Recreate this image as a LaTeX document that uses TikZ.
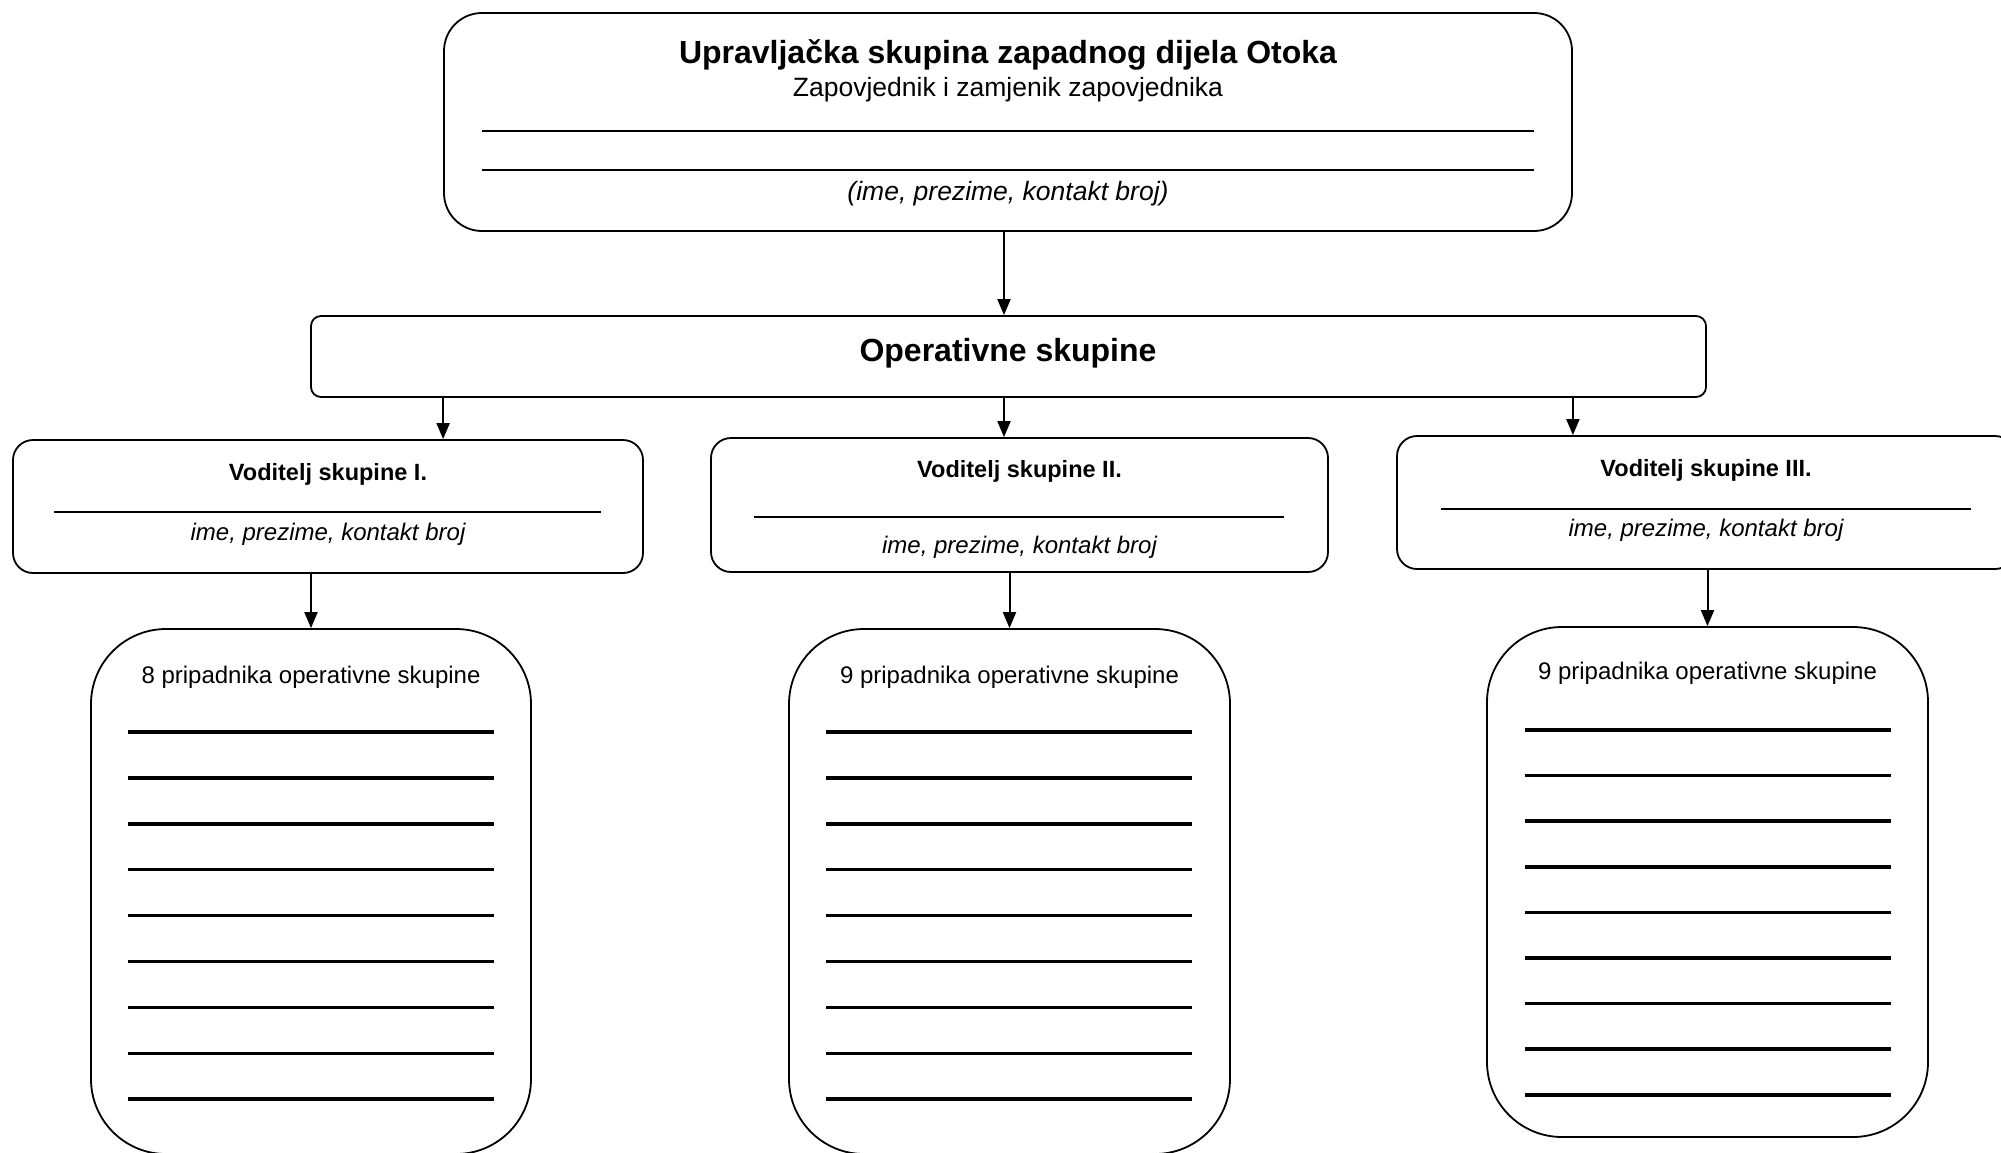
\documentclass[tikz,border=0pt]{standalone}
\usepackage{fontspec}
\setmainfont{Liberation Sans}
\usetikzlibrary{arrows.meta}

\tikzset{
  box/.style={draw, line width=1.8pt, inner sep=0pt},
  blank/.style={line width=1.3pt},
  row/.style={line width=3.5pt},
  arr/.style={line width=2pt, -{Triangle[length=16pt,width=13pt]}},
  bigbold/.style={font=\fontsize{32}{38}\selectfont\bfseries},
  big/.style={font=\fontsize{26.5}{32}\selectfont},
  bigit/.style={font=\fontsize{26.5}{32}\selectfont\itshape},
  small/.style={font=\fontsize{24}{29}\selectfont},
  smallbold/.style={font=\fontsize{23.5}{29}\selectfont\bfseries},
  smallit/.style={font=\fontsize{24}{29}\selectfont\itshape},
}

\begin{document}
\begin{tikzpicture}[x=1pt,y=-1pt]

\useasboundingbox (0,0) rectangle (2001,1152);

%% Upravljacka skupina
\node [box, rounded corners=38pt, minimum width=1128pt, minimum height=218pt] (upr) at (1008,122) {};
\node [bigbold] (uprtitle) at (1008,55) {Upravljačka skupina zapadnog dijela Otoka};
\node [big] (uprsub) at (1008,90) {Zapovjednik i zamjenik zapovjednika};
\draw [blank] (482,131) -- (1534,131);
\draw [blank] (482,170) -- (1534,170);
\node [bigit] (uprname) at (1008,194) {(ime, prezime, kontakt broj)};
\coordinate (mid) at (1004,0);

%% Operativne skupine
\node [box, rounded corners=10pt, minimum width=1395pt, minimum height=81pt] (ops) at (1008.5,356.5) {};
\node [bigbold] (opstitle) at (1008,353) {Operativne skupine};
\draw [arr] (upr.south -| mid) -- (ops.north -| mid);

%% Voditelji
\node [box, rounded corners=20pt, minimum width=630pt, minimum height=133pt] (vod1) at (328,506.5) {};
\node [smallbold] (vod1title) at (328,474) {Voditelj skupine I.};
\draw [blank] (54,512) -- (601,512);
\node [smallit] (vod1name) at (328,534) {ime, prezime, kontakt broj};

\node [box, rounded corners=20pt, minimum width=617pt, minimum height=134pt] (vod2) at (1019.5,505) {};
\node [smallbold] (vod2title) at (1019.5,471) {Voditelj skupine II.};
\draw [blank] (754,517) -- (1284,517);
\node [smallit] (vod2name) at (1019.5,547) {ime, prezime, kontakt broj};

\node [box, rounded corners=20pt, minimum width=618pt, minimum height=133pt] (vod3) at (1706,502.5) {};
\node [smallbold] (vod3title) at (1706,470) {Voditelj skupine III.};
\draw [blank] (1441,509) -- (1971,509);
\node [smallit] (vod3name) at (1706,530) {ime, prezime, kontakt broj};

\draw [arr] (ops.south -| upr.west) -- (vod1.north -| upr.west);
\draw [arr] (ops.south -| mid) -- (vod2.north -| mid);
\draw [arr] (ops.south -| upr.east) -- (vod3.north -| upr.east);

%% Pripadnici
\node [box, rounded corners=75pt, minimum width=440pt, minimum height=525pt] (grp1) at (311,891.5) {};
\node [small] (grp1title) at (311,677) {8 pripadnika operativne skupine};
\foreach \i in {0,...,8}
  \draw [row] (128,{732+45.9*\i}) -- (494,{732+45.9*\i});

\node [box, rounded corners=75pt, minimum width=441pt, minimum height=525pt] (grp2) at (1009.5,891.5) {};
\node [small] (grp2title) at (1009.5,677) {9 pripadnika operativne skupine};
\foreach \i in {0,...,8}
  \draw [row] (826,{732+45.9*\i}) -- (1192,{732+45.9*\i});

\node [box, rounded corners=75pt, minimum width=441pt, minimum height=510pt] (grp3) at (1707.5,882) {};
\node [small] (grp3title) at (1707.5,673) {9 pripadnika operativne skupine};
\foreach \i in {0,...,8}
  \draw [row] (1525,{730+45.6*\i}) -- (1891,{730+45.6*\i});

\draw [arr] (vod1.south -| grp1.north) -- (grp1.north);
\draw [arr] (vod2.south -| grp2.north) -- (grp2.north);
\draw [arr] (vod3.south -| grp3.north) -- (grp3.north);

\end{tikzpicture}
\end{document}
